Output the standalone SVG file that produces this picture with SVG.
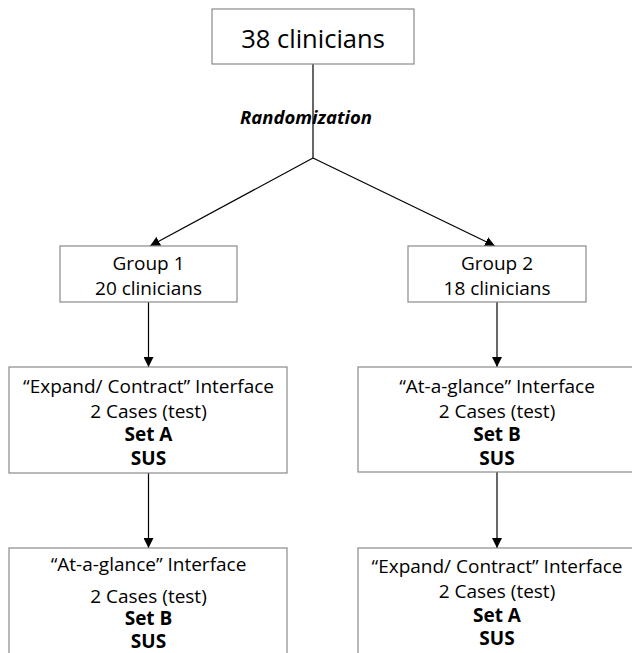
<svg xmlns="http://www.w3.org/2000/svg" width="632" height="653" viewBox="0 0 632 653">
<style>
.box{fill:#fff;stroke:#8a8a8a;stroke-width:1.2}
.t{font-family:"Open Sans","Liberation Sans",sans-serif;font-size:19px;fill:#000;text-anchor:middle}
.b{font-weight:bold}
.big{font-size:25.5px}
.ri{font-style:italic;font-size:18.5px}
.ln{stroke:#000;stroke-width:1.2;fill:none}
</style>
<defs>
<marker id="ah" viewBox="0 0 10 10" refX="10" refY="5" markerWidth="10" markerHeight="10" markerUnits="userSpaceOnUse" orient="auto">
<path d="M0,0 L10,5 L0,10 z" fill="#000"/>
</marker>
</defs>
<g id="connectors">
<line class="ln" x1="313" y1="64" x2="313" y2="158"/>
<line class="ln" x1="313" y1="158" x2="150" y2="246" marker-end="url(#ah)"/>
<line class="ln" x1="313" y1="158" x2="495" y2="246" marker-end="url(#ah)"/>
<line class="ln" x1="148.5" y1="302" x2="148.5" y2="367" marker-end="url(#ah)"/>
<line class="ln" x1="497" y1="302" x2="497" y2="367" marker-end="url(#ah)"/>
<line class="ln" x1="148.5" y1="473" x2="148.5" y2="548" marker-end="url(#ah)"/>
<line class="ln" x1="497" y1="472" x2="497" y2="548" marker-end="url(#ah)"/>
</g>
<g id="label-randomization">
<text class="t b ri" x="306" y="124">Randomization</text>
</g>
<g id="n-start">
<rect class="box" x="212" y="9" width="202" height="55"/>
<text class="t big" x="313" y="48">38 clinicians</text>
</g>
<g id="n-group1">
<rect class="box" x="60" y="246" width="177" height="56"/>
<text class="t" x="148.5" y="270">Group 1</text>
<text class="t" x="148.5" y="295">20 clinicians</text>
</g>
<g id="n-group2">
<rect class="box" x="408" y="246" width="178" height="56"/>
<text class="t" x="497" y="270">Group 2</text>
<text class="t" x="497" y="295">18 clinicians</text>
</g>
<g id="n-g1-first">
<rect class="box" x="9" y="367" width="278" height="106"/>
<text class="t" x="148.5" y="393">“Expand/ Contract” Interface</text>
<text class="t" x="148.5" y="418">2 Cases (test)</text>
<text class="t b" x="148.5" y="441">Set A</text>
<text class="t b" x="148.5" y="465">SUS</text>
</g>
<g id="n-g2-first">
<rect class="box" x="358" y="367" width="280" height="105"/>
<text class="t" x="497" y="393">“At-a-glance” Interface</text>
<text class="t" x="497" y="418">2 Cases (test)</text>
<text class="t b" x="497" y="441">Set B</text>
<text class="t b" x="497" y="465">SUS</text>
</g>
<g id="n-g1-second">
<rect class="box" x="9" y="548" width="278" height="110"/>
<text class="t" x="148.5" y="571">“At-a-glance” Interface</text>
<text class="t" x="148.5" y="603">2 Cases (test)</text>
<text class="t b" x="148.5" y="625">Set B</text>
<text class="t b" x="148.5" y="648">SUS</text>
</g>
<g id="n-g2-second">
<rect class="box" x="358" y="548" width="280" height="110"/>
<text class="t" x="497" y="573">“Expand/ Contract” Interface</text>
<text class="t" x="497" y="598">2 Cases (test)</text>
<text class="t b" x="497" y="622">Set A</text>
<text class="t b" x="497" y="645">SUS</text>
</g>
</svg>
